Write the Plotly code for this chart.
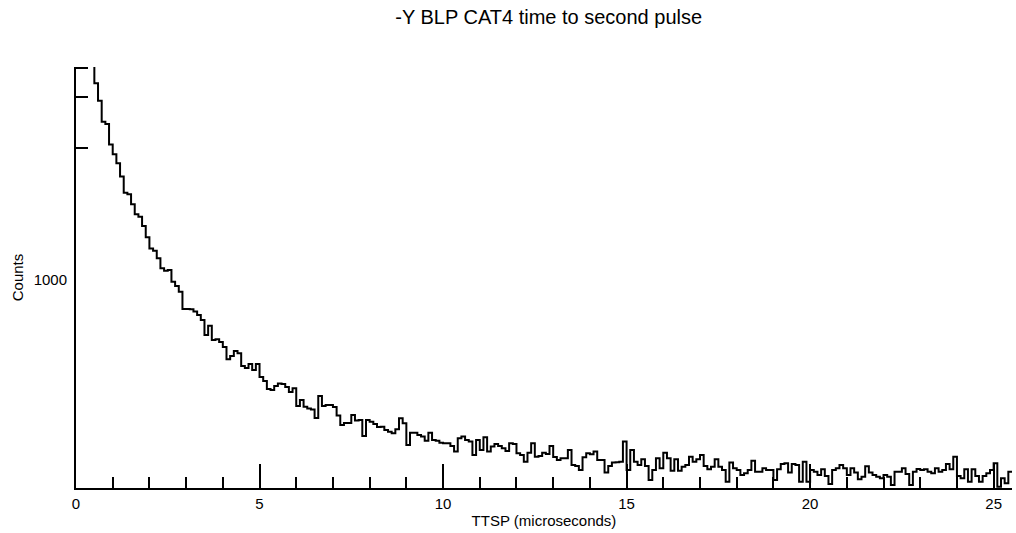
import plotly.graph_objects as go

# Histogram of time to second pulse, 0.1 us bins (left edges from 0.4 us)
bin_width = 0.1
first_edge = 0.4
counts = [
    2150, 1946, 1862, 1761, 1750, 1652, 1604, 1561, 1497, 1420,
    1412, 1364, 1316, 1304, 1260, 1205, 1152, 1141, 1104, 1056,
    1045, 1048, 992, 971, 944, 861, 861, 859, 848, 832,
    808, 736, 780, 712, 715, 702, 678, 619, 635, 659,
    648, 587, 577, 596, 567, 596, 534, 514, 476, 471,
    490, 502, 500, 486, 462, 479, 394, 423, 391, 382,
    377, 337, 442, 394, 399, 399, 389, 349, 303, 313,
    313, 351, 324, 327, 250, 327, 319, 308, 293, 295,
    279, 271, 263, 282, 335, 311, 207, 266, 266, 255,
    247, 227, 266, 231, 227, 218, 215, 215, 202, 175,
    239, 247, 231, 223, 159, 231, 183, 244, 175, 199,
    212, 202, 191, 178, 215, 212, 167, 159, 126, 170,
    215, 150, 154, 170, 163, 202, 149, 135, 143, 143,
    183, 111, 106, 87, 148, 167, 162, 175, 135, 135,
    74, 106, 122, 124, 126, 223, 87, 183, 126, 111,
    138, 106, 38, 87, 143, 95, 170, 143, 83, 138,
    83, 102, 111, 150, 126, 138, 159, 106, 90, 102,
    138, 102, 87, 30, 122, 95, 87, 63, 71, 87,
    131, 78, 78, 95, 87, 87, 38, 90, 115, 119,
    74, 115, 111, 30, 126, 30, 87, 78, 63, 90,
    58, 19, 87, 95, 111, 95, 63, 95, 74, 42,
    54, 104, 74, 63, 54, 47, 63, 54, 14, 78,
    78, 95, 67, 14, 78, 91, 87, 90, 78, 71,
    95, 78, 87, 115, 90, 150, 58, 47, 90, 30,
    90, 58, 30, 58, 71, 87, 119, 6, 47, 23,
    78,
]

x_range = [0, 25.5]
y_range = [0, 2024]
y_label_vals = [1000]
y_label_text = ["1000"]
y_mark_vals = [1635, 1880, 2019]

# step outline: each bin drawn from its left edge, closed at the last right edge
edges = [round(first_edge + i * bin_width, 2) for i in range(len(counts) + 1)]
step_y = counts + [counts[-1]]

fig = go.Figure()
fig.add_trace(go.Scatter(
    x=edges, y=step_y, mode="lines",
    line=dict(shape="hv", color="black", width=2),
    hoverinfo="skip", showlegend=False,
))
# invisible trace that carries the secondary y axis (tick marks only)
fig.add_trace(go.Scatter(
    x=[x_range[0]], y=[y_range[0]], yaxis="y2", mode="markers",
    marker=dict(opacity=0), hoverinfo="skip", showlegend=False,
))

font_family = "Liberation Sans, Arial, sans-serif"

fig.update_layout(
    width=1016, height=533,
    margin=dict(l=76, r=4, t=67, b=45),
    paper_bgcolor="white", plot_bgcolor="white",
    font=dict(family=font_family, size=15, color="black"),
    title=dict(
        text="-Y BLP CAT4 time to second pulse",
        x=0.505, xref="paper", xanchor="center",
        y=1 - 17 / 533, yref="container", yanchor="middle",
        font=dict(size=20, family=font_family, color="black"),
    ),
    xaxis=dict(
        range=x_range, showgrid=False, zeroline=False,
        showline=True, linecolor="black", linewidth=2,
        ticks="inside", ticklen=24, tickwidth=2, tickcolor="black",
        dtick=5, tick0=0,
        minor=dict(dtick=1, tick0=0, ticks="inside", ticklen=11,
                   tickwidth=2, tickcolor="black", showgrid=False),
        tickfont=dict(size=15), ticklabelstandoff=1,
        title=dict(text="TTSP (microseconds)", font=dict(size=15), standoff=4),
    ),
    yaxis=dict(
        range=y_range, showgrid=False, zeroline=False,
        showline=True, linecolor="black", linewidth=2,
        tickmode="array", tickvals=y_label_vals, ticktext=y_label_text,
        ticks="", tickfont=dict(size=15), ticklabelstandoff=4,
        title=dict(text="Counts", font=dict(size=15), standoff=6),
    ),
    yaxis2=dict(
        range=y_range, overlaying="y", side="left", showgrid=False,
        zeroline=False, showline=False, showticklabels=False,
        tickmode="array", tickvals=y_mark_vals,
        ticks="inside", ticklen=12, tickwidth=2, tickcolor="black",
    ),
)

fig.write_html("out.html")
